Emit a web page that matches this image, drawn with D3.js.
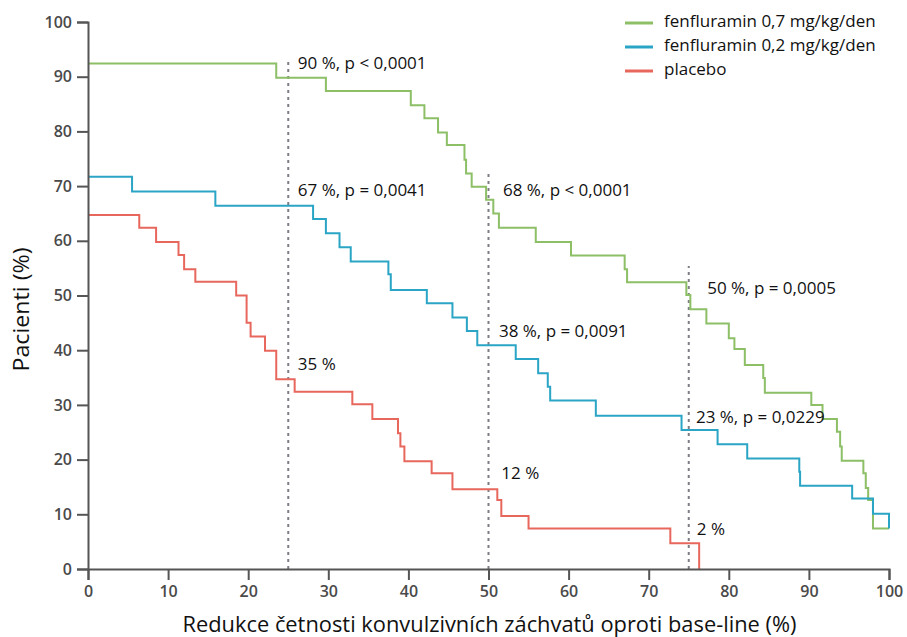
<!DOCTYPE html>
<html>
<head>
<meta charset="utf-8">
<script src="https://cdn.jsdelivr.net/npm/d3@7"></script>
<style>
  body { margin: 0; background: #fff; }
  text { font-family: "Open Sans", "Noto Sans", sans-serif; }
</style>
</head>
<body>
<svg id="chart"></svg>
<script>
// step data: x = reduction (%) where the step happens, y = patients (%) after it
const greenX = [0, 23.5, 29.7, 40.3, 42.0, 43.7, 44.8, 47.0, 47.2, 47.9, 49.7, 50.6, 51.3, 55.9, 60.3, 67.0, 67.3, 74.7, 75.2, 77.2, 80.0, 80.7, 82.0, 84.3, 84.5, 90.3, 91.7, 93.5, 93.9, 94.1, 96.8, 97.1, 97.4, 98.0, 100];
const greenY = [92.4, 89.8, 87.4, 84.8, 82.4, 79.8, 77.5, 74.8, 72.3, 69.9, 67.5, 65.0, 62.4, 59.8, 57.3, 54.8, 52.4, 50.1, 47.5, 44.9, 42.2, 40.2, 37.3, 34.9, 32.2, 30.0, 27.4, 25.1, 22.4, 19.8, 17.5, 14.8, 12.6, 7.4, 7.4];

const blueX = [0, 5.5, 15.9, 28.1, 29.7, 31.4, 32.8, 37.5, 37.8, 42.3, 45.5, 47.3, 48.6, 53.4, 56.2, 57.4, 57.7, 63.4, 74.1, 78.6, 82.3, 88.8, 88.9, 95.4, 98.0, 100];
const blueY = [71.7, 69.0, 66.4, 64.0, 61.4, 58.8, 56.2, 53.9, 51.0, 48.6, 46.0, 43.5, 40.9, 38.4, 35.8, 33.3, 30.8, 28.0, 25.4, 22.8, 20.2, 17.8, 15.2, 12.9, 10.1, 7.4];

const redX = [0, 6.4, 8.5, 11.3, 12.0, 13.4, 18.5, 19.8, 20.3, 22.1, 23.5, 25.8, 33.0, 35.5, 38.7, 39.0, 39.5, 42.9, 45.5, 51.1, 51.6, 55.0, 72.7, 76.3];
const redY = [64.7, 62.4, 59.8, 57.4, 54.8, 52.5, 50.0, 45.0, 42.5, 39.9, 34.7, 32.4, 30.1, 27.4, 24.8, 22.4, 19.7, 17.5, 14.6, 12.6, 9.7, 7.4, 4.7, 0];

const seriesNames = ["fenfluramin 0,7 mg/kg/den", "fenfluramin 0,2 mg/kg/den", "placebo"];
const seriesColors = ["#8cbf66", "#2aa5c5", "#e8675d"];

const xTicks = [0, 10, 20, 30, 40, 50, 60, 70, 80, 90, 100];
const yTicks = [0, 10, 20, 30, 40, 50, 60, 70, 80, 90, 100];

// reference cut lines and how high each dashed line goes
const cutX = [25, 50, 75];
const cutTop = [93, 72.3, 55.4];

// annotation texts with their anchor (data units)
const noteText = ["90 %, p < 0,0001", "67 %, p = 0,0041", "35 %",
                  "68 %, p < 0,0001", "38 %, p = 0,0091", "12 %",
                  "50 %, p = 0,0005", "23 %, p = 0,0229", "2 %"];
const noteX = [26.2, 26.2, 26.2, 51.8, 51.3, 51.6, 77.3, 75.9, 76.0];
const noteY = [92.5, 69.3, 37.5, 69.3, 43.5, 17.5, 51.4, 27.8, 7.3];

const W = 907, H = 637;
const margin = {top: 22, right: 18, bottom: 68, left: 88};
const iw = W - margin.left - margin.right;
const ih = H - margin.top - margin.bottom;

const svg = d3.select("#chart").attr("width", W).attr("height", H);
const g = svg.append("g").attr("transform", `translate(${margin.left},${margin.top})`);

const x = d3.scaleLinear().domain([0, 100]).range([0, iw]);
const y = d3.scaleLinear().domain([0, 100]).range([ih, 0]);

// dashed reference lines
g.selectAll(".cut")
  .data(cutX)
  .enter()
  .append("line")
  .attr("x1", d => x(d)).attr("x2", d => x(d))
  .attr("y1", y(0)).attr("y2", (d, i) => y(cutTop[i]))
  .attr("stroke", "#7d7d85")
  .attr("stroke-width", 2)
  .attr("stroke-dasharray", "3,4");

// step curves
const line = d3.line()
  .x(d => x(d[0]))
  .y(d => y(d[1]))
  .curve(d3.curveStepAfter);

const curves = [
  d3.zip(greenX, greenY),
  d3.zip(blueX, blueY),
  d3.zip(redX, redY)
];
// blue drops at the very end of the range
curves[1].push([100, 7.4]);

g.selectAll(".curve")
  .data(curves)
  .enter()
  .append("path")
  .attr("d", d => line(d))
  .attr("fill", "none")
  .attr("stroke", (d, i) => seriesColors[i])
  .attr("stroke-width", 2);

// axes
const xAxis = g.append("g")
  .attr("transform", `translate(0,${ih})`)
  .call(d3.axisBottom(x).tickValues(xTicks).tickSize(11).tickPadding(6));
const yAxis = g.append("g")
  .call(d3.axisLeft(y).tickValues(yTicks).tickSize(11).tickPadding(5));

[xAxis, yAxis].forEach(a => {
  a.select(".domain").attr("stroke", "#555").attr("stroke-width", 2);
  a.selectAll(".tick line").attr("stroke", "#555").attr("stroke-width", 2);
  a.selectAll(".tick text")
    .attr("fill", "#4a4a4a")
    .style("font-size", "16px")
    .style("font-weight", "600");
});

// annotations
g.selectAll(".note")
  .data(noteText)
  .enter()
  .append("text")
  .attr("x", (d, i) => x(noteX[i]))
  .attr("y", (d, i) => y(noteY[i]))
  .attr("dy", "0.35em")
  .attr("fill", "#111")
  .style("font-size", "17px")
  .text(d => d);

// axis titles
svg.append("text")
  .attr("x", margin.left + iw / 2 + 1)
  .attr("y", 632)
  .attr("text-anchor", "middle")
  .attr("fill", "#111")
  .style("font-size", "21px")
  .attr("textLength", 614)
  .attr("lengthAdjust", "spacingAndGlyphs")
  .text("Redukce četnosti konvulzivních záchvatů oproti base-line (%)");

svg.append("text")
  .attr("transform", `translate(29,${margin.top + ih / 2 + 14}) rotate(-90)`)
  .attr("text-anchor", "middle")
  .attr("fill", "#111")
  .style("font-size", "21px")
  .attr("textLength", 124)
  .attr("lengthAdjust", "spacingAndGlyphs")
  .text("Pacienti (%)");

// legend
const legend = svg.append("g").attr("transform", "translate(625,21)");
const item = legend.selectAll("g")
  .data(seriesNames)
  .enter()
  .append("g")
  .attr("transform", (d, i) => `translate(0,${i * 24})`);
item.append("line")
  .attr("x1", 0).attr("x2", 28)
  .attr("y1", 2).attr("y2", 2)
  .attr("stroke", (d, i) => seriesColors[i])
  .attr("stroke-width", 3);
item.append("text")
  .attr("x", 39)
  .attr("y", 0)
  .attr("dy", "0.35em")
  .attr("fill", "#111")
  .style("font-size", "17px")
  .text(d => d);
</script>
</body>
</html>
